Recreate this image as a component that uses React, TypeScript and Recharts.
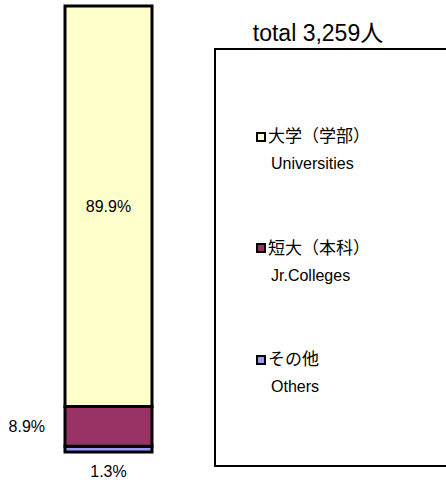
import { BarChart, Bar, XAxis, YAxis, Legend, LabelList } from 'recharts';

// share of students by school type (%)
const categories = ['学生'];
const universities = [89.9];
const jrColleges = [8.9];
const others = [1.3];

const totalLabel = 'total 3,259人';

const legendItems = [
  { key: 'univ', jp: '大学（学部）', en: 'Universities', color: '#FFFFCC' },
  { key: 'jrc', jp: '短大（本科）', en: 'Jr.Colleges', color: '#993366' },
  { key: 'others', jp: 'その他', en: 'Others', color: '#9999FF' },
];

const data = categories.map((name, i) => ({
  name,
  others: others[i],
  jrc: jrColleges[i],
  univ: universities[i],
}));

const FONT = '"Liberation Sans", "Noto Sans CJK JP", sans-serif';
const pct = (v: any) => `${v}%`;
const labelStyle = { fill: '#000', fontSize: 16, fontFamily: FONT };

function LegendBox() {
  return (
    <div style={{ position: 'relative', width: 240, height: 419, fontFamily: FONT, color: '#000' }}>
      <div style={{ position: 'absolute', left: 10, top: -34, width: 188, textAlign: 'center', fontSize: 23, whiteSpace: 'nowrap' }}>
        {totalLabel}
      </div>
      <div style={{ position: 'absolute', inset: 0, border: '2px solid #000', boxSizing: 'border-box' }} />
      {legendItems.map((item, i) => (
        <div key={item.key} style={{ position: 'absolute', left: 42, top: 75 + i * 111.5, lineHeight: '27px' }}>
          <div style={{ fontSize: 17, display: 'flex', alignItems: 'center' }}>
            <span style={{
              display: 'inline-block', width: 6, height: 6, background: item.color,
              border: '2px solid #000', marginRight: 2,
            }} />
            {item.jp}
          </div>
          <div style={{ fontSize: 16, paddingLeft: 15 }}>{item.en}</div>
        </div>
      ))}
    </div>
  );
}

export default function App() {
  return (
    <div style={{ position: 'absolute', left: 0, top: 0, width: 446, height: 483, background: '#fff' }}>
      <BarChart
        width={446}
        height={483}
        data={data}
        barCategoryGap={0}
        margin={{ top: 6, right: 294, bottom: 31, left: 65 }}
      >
        <XAxis dataKey="name" hide />
        <YAxis hide domain={[0, 'dataMax']} />
        <Legend
          layout="vertical"
          align="center"
          verticalAlign="middle"
          wrapperStyle={{ left: 214, top: 48, width: 240, height: 419 }}
          content={() => <LegendBox />}
        />
        <Bar dataKey="others" stackId="a" fill="#9999FF" stroke="#000" strokeWidth={3} isAnimationActive={false}>
          <LabelList dataKey="others" position="bottom" offset={14} formatter={pct} style={labelStyle} />
        </Bar>
        <Bar dataKey="jrc" stackId="a" fill="#993366" stroke="#000" strokeWidth={3} isAnimationActive={false}>
          <LabelList dataKey="jrc" position="left" offset={20} formatter={pct} style={labelStyle} />
        </Bar>
        <Bar dataKey="univ" stackId="a" fill="#FFFFCC" stroke="#000" strokeWidth={3} isAnimationActive={false}>
          <LabelList dataKey="univ" position="center" formatter={pct} style={labelStyle} />
        </Bar>
      </BarChart>
    </div>
  );
}
